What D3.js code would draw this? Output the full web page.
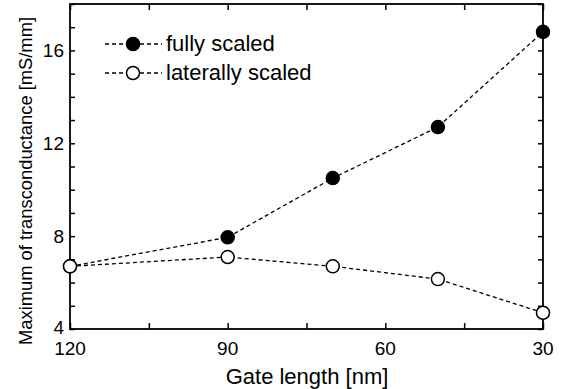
<!DOCTYPE html>
<meta charset="utf-8">
<script src="https://d3js.org/d3.v7.min.js"></script>
<style>
  body { margin: 0; background: #fff; }
  svg text { font-family: "Liberation Sans", Arial, sans-serif; fill: #000; }
</style>
<div id="chart"></div>
<script>
// data
var gateLength = [120, 90, 70, 50, 30];
var fullyScaled = [6.7, 7.95, 10.5, 12.7, 16.8];
var laterallyScaled = [6.7, 7.1, 6.7, 6.15, 4.7];
var xTickLabels = [120, 90, 60, 30];
var yTickLabels = [4, 8, 12, 16];
var seriesNames = ["fully scaled", "laterally scaled"];

var W = 563, H = 389;
var margin = {top: 4, right: 20, bottom: 60, left: 70};
var width = W - margin.left - margin.right,
    height = H - margin.top - margin.bottom;

var svg = d3.select("#chart").append("svg")
    .attr("width", W).attr("height", H);
var g = svg.append("g")
    .attr("transform", "translate(" + margin.left + "," + margin.top + ")");

var x = d3.scaleLinear().domain([120, 30]).range([0, width]);
var y = d3.scaleLinear().domain([4, 18]).range([height, 0]);

// ticks pointing inward on all four sides
var xMinor = d3.range(120, 29, -15);
var yMinor = d3.range(4, 18.5, 1);

g.append("g").attr("transform", "translate(0," + height + ")")
  .call(d3.axisTop(x).tickValues(xMinor).tickSize(6).tickFormat(""));
g.append("g")
  .call(d3.axisBottom(x).tickValues(xMinor).tickSize(6).tickFormat(""));
g.append("g")
  .call(d3.axisRight(y).tickValues(yMinor).tickSize(5).tickFormat(""));
g.append("g").attr("transform", "translate(" + width + ",0)")
  .call(d3.axisLeft(y).tickValues(yMinor).tickSize(5).tickFormat(""));
g.selectAll(".domain").remove();
g.selectAll(".tick line").attr("stroke", "#000").attr("stroke-width", 1.5);

g.append("rect")
  .attr("width", width).attr("height", height)
  .attr("fill", "none").attr("stroke", "#000").attr("stroke-width", 1.8);

// tick labels
g.selectAll(".xlab").data(xTickLabels).enter().append("text")
  .attr("x", function(d) { return x(d); })
  .attr("y", height + 26)
  .attr("text-anchor", "middle")
  .style("font-size", "19px")
  .text(function(d) { return d; });

g.selectAll(".ylab").data(yTickLabels).enter().append("text")
  .attr("x", -6)
  .attr("y", function(d) { return y(d) + (d == 4 ? 5 : 7); })
  .attr("text-anchor", "end")
  .style("font-size", "19px")
  .text(function(d) { return d; });

// axis titles
svg.append("text")
  .attr("x", 307).attr("y", 384)
  .attr("text-anchor", "middle")
  .style("font-size", "22px")
  .text("Gate length [nm]");

svg.append("text")
  .attr("transform", "translate(32,181) rotate(-90)")
  .attr("text-anchor", "middle")
  .attr("textLength", 328)
  .attr("lengthAdjust", "spacingAndGlyphs")
  .style("font-size", "19px")
  .text("Maximum of transconductance [mS/mm]");

// series
var line = d3.line()
  .x(function(d, i) { return x(gateLength[i]); })
  .y(function(d) { return y(d); });

var series = [
  {name: seriesNames[0], values: fullyScaled, fill: "#000"},
  {name: seriesNames[1], values: laterallyScaled, fill: "#fff"}
];

series.forEach(function(s) {
  g.append("path")
    .datum(s.values)
    .attr("d", line)
    .attr("fill", "none")
    .attr("stroke", "#000")
    .attr("stroke-width", 1.3)
    .attr("stroke-dasharray", "4,3");
});

series.forEach(function(s) {
  g.selectAll(null).data(s.values).enter().append("circle")
    .attr("cx", function(d, i) { return x(gateLength[i]); })
    .attr("cy", function(d) { return y(d); })
    .attr("r", 6.5)
    .attr("fill", s.fill)
    .attr("stroke", "#000")
    .attr("stroke-width", 1.5);
});

// legend
var legend = svg.append("g");
series.forEach(function(s, i) {
  var ly = 44 + i * 29;
  legend.append("line")
    .attr("x1", 105).attr("x2", 162)
    .attr("y1", ly).attr("y2", ly)
    .attr("stroke", "#000").attr("stroke-width", 1.3)
    .attr("stroke-dasharray", "4,3");
  legend.append("circle")
    .attr("cx", 133).attr("cy", ly).attr("r", 6.5)
    .attr("fill", s.fill).attr("stroke", "#000").attr("stroke-width", 1.5);
  legend.append("text")
    .attr("x", 166).attr("y", ly + 7)
    .style("font-size", "22px")
    .text(s.name);
});
</script>
